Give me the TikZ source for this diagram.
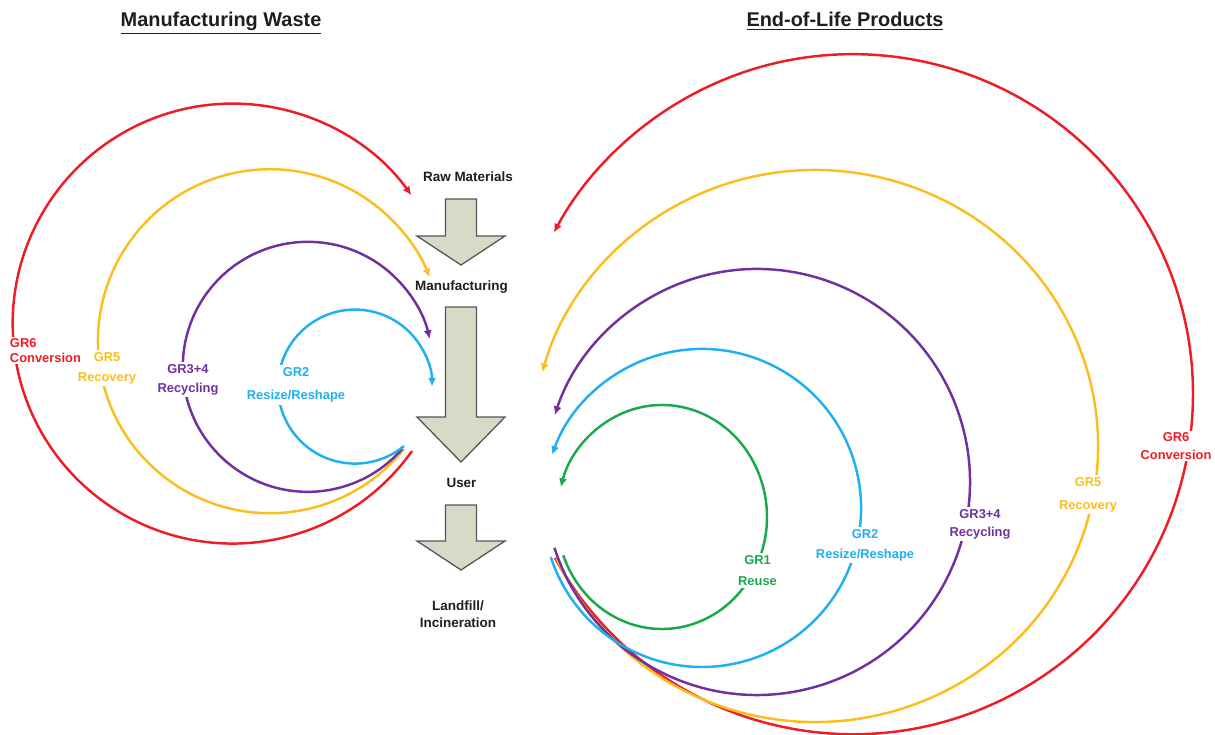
\documentclass[tikz,border=0pt]{standalone}
\usepackage{fontspec}
\setmainfont{Liberation Sans}
\usetikzlibrary{arrows.meta}

\definecolor{gred}{RGB}{238,28,36}
\definecolor{gyellow}{RGB}{250,190,30}
\definecolor{gpurple}{RGB}{112,48,160}
\definecolor{gblue}{RGB}{30,176,240}
\definecolor{ggreen}{RGB}{26,168,76}
\definecolor{arrowfill}{RGB}{216,218,200}
\definecolor{arrowline}{RGB}{85,85,85}
\definecolor{ink}{RGB}{30,30,30}

% downward block arrow centred on the process column: top, shoulder, tip
\newcommand\stagearrow[3]{%
  \draw[blockarrow] (445.5,#1) -- (476.5,#1) -- (476.5,#2) -- (505,#2)
    -- (461,#3) -- (417,#2) -- (445.5,#2) -- cycle;}

\begin{document}
\begin{tikzpicture}[x=0.03cm,y=-0.03cm,
  loop/.style={line width=2.1pt, -{Latex[length=7.5pt,width=7pt]}},
  blockarrow/.style={fill=arrowfill, draw=arrowline, line width=1.1pt, line join=miter},
  stage/.style={font=\bfseries\fontsize{11.5}{14}\selectfont, text=ink, align=center, inner sep=0pt},
  header/.style={font=\bfseries\fontsize{17}{20}\selectfont, text=ink, anchor=base, inner sep=0pt},
  lab/.style={font=\bfseries\fontsize{11}{13}\selectfont, align=center, fill=white, inner sep=2pt}]

\useasboundingbox (0,0) rectangle (1215,735);

% headings
\node[header] (hmw) at (221,27) {\underline{Manufacturing Waste}};
\node[header] (hel) at (845,27) {\underline{End-of-Life Products}};

% process column
\node[stage] (raw)  at (468,177) {Raw Materials};
\node[stage] (man)  at (461.5,287) {Manufacturing};
\node[stage] (user) at (461.5,483) {User};
\node[stage] (land) at (458,614) {Landfill/\\[1pt]Incineration};

\stagearrow{199}{236}{265}
\stagearrow{307}{417}{462}
\stagearrow{505}{541}{570}

% manufacturing-waste loops (left)
\coordinate (sL6) at (412,451);
\coordinate (sL5) at (404,449);
\coordinate (sL34) at (402,449);
\coordinate (sL2) at (404,446);
\draw[loop, gred]    (sL6)  arc[start angle=35.4, end angle=324.3, radius=220];
\draw[loop, gyellow] (sL5)  arc[start angle=38.8, end angle=338.2, radius=172];
\draw[loop, gpurple] (sL34) arc[start angle=41.1, end angle=347.1, radius=125];
\draw[loop, gblue]   (sL2)  arc[start angle=50.5, end angle=360, radius=77];

% end-of-life loops (right)
\coordinate (sR6) at (555,558);
\coordinate (sR5) at (556.7,558.7);
\coordinate (sR34) at (554.4,547.8);
\coordinate (sR2) at (550.8,557.1);
\coordinate (sR1) at (563.3,555.3);
\draw[loop, gred]    (sR6)  arc[start angle=151.2, end angle=-151.6, radius=340];
\draw[loop, gyellow] (sR5)  arc[start angle=155.9, end angle=-164.5, x radius=283, y radius=276];
\draw[loop, gpurple] (sR34) arc[start angle=162, end angle=-161.7, radius=213];
\draw[loop, gblue]   (sR2)  arc[start angle=162, end angle=-160.5, radius=159];
\draw[loop, ggreen]  (sR1)  arc[start angle=160, end angle=-164.5, x radius=105, y radius=112];

% loop labels, left
\node[lab, text=gyellow] (l5) at (107,368) {GR5\\[4pt]Recovery};
\node[lab, text=gred, align=left, anchor=west, inner sep=1.5pt] (l6) at (8,350.5) {GR6\\Conversion};
\node[lab, text=gpurple] (l34) at (188,379.5) {GR3+4\\[3pt]Recycling};
\node[lab, text=gblue] (l2) at (296,385) {GR2\\[7pt]Resize/Reshape};

% loop labels, right
\node[lab, text=ggreen] (r1) at (757.5,570.5) {GR1\\[5pt]Reuse};
\node[lab, text=gblue] (r2) at (865,545) {GR2\\[4pt]Resize/Reshape};
\node[lab, text=gpurple] (r34) at (980,524) {GR3+4\\[2.5pt]Recycling};
\node[lab, text=gyellow] (r5) at (1088,494.5) {GR5\\[6.5pt]Recovery};
\node[lab, text=gred, inner sep=1pt] (r6) at (1176,446) {GR6\\[2.5pt]Conversion};

\end{tikzpicture}
\end{document}
